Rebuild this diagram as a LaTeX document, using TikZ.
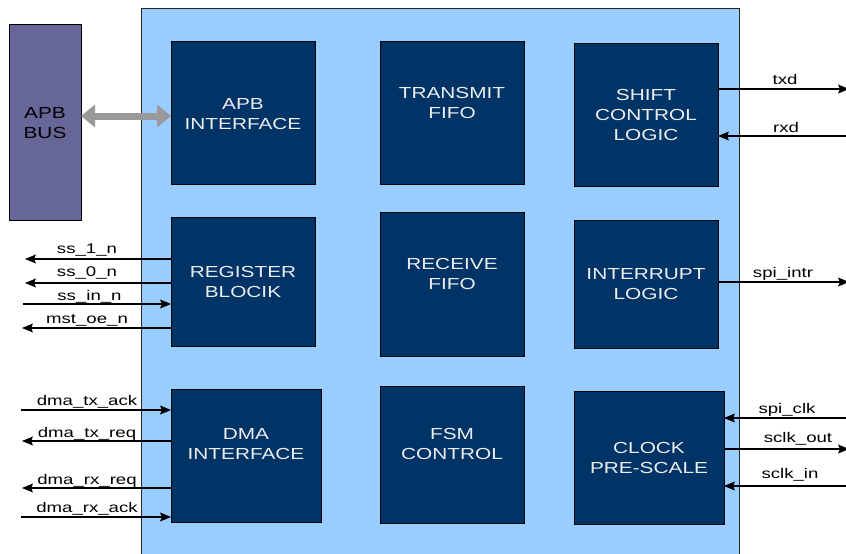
\documentclass[tikz,border=0pt]{standalone}
\usepackage{fontspec}
\setmainfont{Liberation Sans}
\newfontfamily\boxfont[FakeStretch=1.3]{Liberation Sans}
\newfontfamily\lblfont[FakeStretch=1.33]{Liberation Sans}
\usetikzlibrary{arrows.meta}
\definecolor{outerblue}{HTML}{99CCFF}
\definecolor{blockblue}{HTML}{003366}
\definecolor{busviolet}{HTML}{666699}
\definecolor{bidirgrey}{HTML}{999999}
\begin{document}
\begin{tikzpicture}[x=1pt,y=-1pt,
  block/.style={draw=black, line width=1pt, fill=blockblue, inner sep=0pt, outer sep=0pt},
  btext/.style={font=\boxfont\fontsize{16}{19}\selectfont, text=white!93!black, anchor=base, inner sep=0pt},
  bustext/.style={font=\boxfont\fontsize{16}{19}\selectfont, text=black, anchor=base, inner sep=0pt},
  lbl/.style={font=\lblfont\fontsize{14}{16}\selectfont, anchor=base, inner sep=0pt},
  sig/.style={line width=1.1pt, -{Stealth[length=11pt,width=9pt,inset=2pt]}},
  bidir/.style={draw=bidirgrey, line width=7pt, {Triangle[length=14pt,width=22pt]}-{Triangle[length=14pt,width=22pt]}},
]
\useasboundingbox (0,0) rectangle (846,554);
\fill[white] (0,0) rectangle (846,554);
% main block
\fill[outerblue] (141,8) rectangle (739,560);
\draw[line width=1pt, black!85] (141,560) -- (141,8) -- (739,8) -- (739,560);

% APB bus
\node[draw=black, line width=1pt, fill=busviolet, inner sep=0pt, outer sep=0pt, minimum width=72pt, minimum height=196pt] (apbbus) at (45,122) {};
\node[bustext] (apbbusA) at (45,118) {APB};
\node[bustext] (apbbusB) at (45,138) {BUS};

% blocks
\node[block, minimum width=144pt, minimum height=143pt] (apbif) at (243,112.5) {};
\node[block, minimum width=144pt, minimum height=143pt] (txfifo) at (452,112.5) {};
\node[block, minimum width=144pt, minimum height=143pt] (shift) at (646,114.5) {};
\node[block, minimum width=144pt, minimum height=129pt] (regblk) at (243,281.5) {};
\node[block, minimum width=144pt, minimum height=144pt] (rxfifo) at (452,284) {};
\node[block, minimum width=144pt, minimum height=128pt] (intr) at (646,284) {};
\node[block, minimum width=150pt, minimum height=133pt] (dma) at (246,455.5) {};
\node[block, minimum width=144pt, minimum height=137pt] (fsm) at (452,454.5) {};
\node[block, minimum width=150pt, minimum height=133pt] (clk) at (649,457.5) {};

% block texts
\node[btext] (apbifA) at (243,109) {APB};
\node[btext] (apbifB) at (243,129) {INTERFACE};
\node[btext] (txA) at (452,98) {TRANSMIT};
\node[btext] (txB) at (452,118) {FIFO};
\node[btext] (shA) at (646,100) {SHIFT};
\node[btext] (shB) at (646,120) {CONTROL};
\node[btext] (shC) at (646,140) {LOGIC};
\node[btext] (regA) at (243,277) {REGISTER};
\node[btext] (regB) at (243,297) {BLOCIK};
\node[btext] (rxA) at (452,269) {RECEIVE};
\node[btext] (rxB) at (452,289) {FIFO};
\node[btext] (inA) at (646,279) {INTERRUPT};
\node[btext] (inB) at (646,299) {LOGIC};
\node[btext] (dmaA) at (246,439) {DMA};
\node[btext] (dmaB) at (246,459) {INTERFACE};
\node[btext] (fsmA) at (452,439) {FSM};
\node[btext] (fsmB) at (452,459) {CONTROL};
\node[btext] (clkA) at (649,453) {CLOCK};
\node[btext] (clkB) at (649,473) {PRE-SCALE};

% APB bidirectional bus arrow
\draw[bidir] (apbbus.east |- 0,116) -- (apbif.west |- 0,116);

% left-side signal ends
\coordinate (ss1) at (25,259);
\coordinate (ss0) at (25,283);
\coordinate (ssin) at (23,304);
\coordinate (mst) at (22,328);
\coordinate (dtxa) at (21,410);
\coordinate (dtxr) at (22,441);
\coordinate (drxr) at (22,488);
\coordinate (drxa) at (21,517);

\draw[sig] (regblk.west |- ss1) -- (ss1);
\draw[sig] (regblk.west |- ss0) -- (ss0);
\draw[sig] (ssin) -- (regblk.west |- ssin);
\draw[sig] (regblk.west |- mst) -- (mst);
\draw[sig] (dtxa) -- (dma.west |- dtxa);
\draw[sig] (dma.west |- dtxr) -- (dtxr);
\draw[sig] (dma.west |- drxr) -- (drxr);
\draw[sig] (drxa) -- (dma.west |- drxa);

\node[lbl] (l1) at (87,253) {ss\_1\_n};
\node[lbl] (l2) at (87,276) {ss\_0\_n};
\node[lbl] (l3) at (89.5,300) {ss\_in\_n};
\node[lbl] (l4) at (87,323) {mst\_oe\_n};
\node[lbl] (l5) at (87,405) {dma\_tx\_ack};
\node[lbl] (l6) at (87,437) {dma\_tx\_req};
\node[lbl] (l7) at (87,484) {dma\_rx\_req};
\node[lbl] (l8) at (87,512) {dma\_rx\_ack};

% right-side signal ends
\coordinate (txd) at (849,89);
\coordinate (rxd) at (846,136);
\coordinate (sint) at (849,282);
\coordinate (sclk) at (846,418);
\coordinate (sco) at (849,449);
\coordinate (sci) at (846,486);

\draw[sig] (shift.east |- txd) -- (txd);
\draw[sig] (rxd) -- (shift.east |- rxd);
\draw[sig] (intr.east |- sint) -- (sint);
\draw[sig] (sclk) -- (clk.east |- sclk);
\draw[sig] (clk.east |- sco) -- (sco);
\draw[sig] (sci) -- (clk.east |- sci);

\node[lbl] (r1) at (785,84) {txd};
\node[lbl] (r2) at (786,132) {rxd};
\node[lbl] (r3) at (783,277) {spi\_intr};
\node[lbl] (r4) at (787,413) {spi\_clk};
\node[lbl] (r5) at (798,442) {sclk\_out};
\node[lbl] (r6) at (790,478) {sclk\_in};
\end{tikzpicture}
\end{document}
